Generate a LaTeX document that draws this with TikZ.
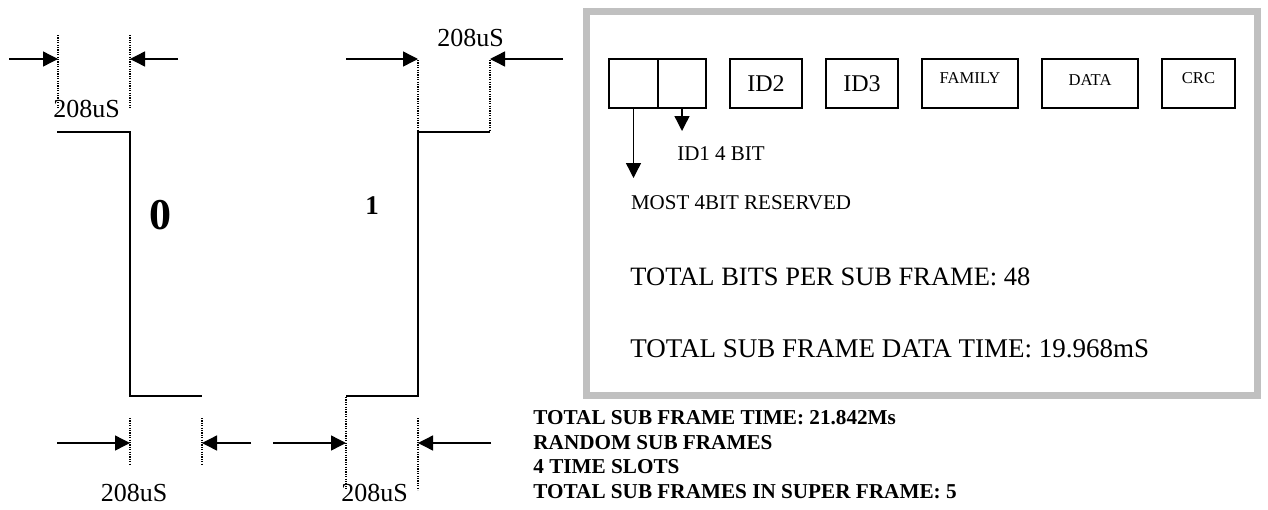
\documentclass[tikz,border=0pt]{standalone}
\usepackage{fontspec}
\setmainfont{Liberation Serif}
\usepackage{tikz}
\usetikzlibrary{arrows.meta, positioning}
\definecolor{framegray}{RGB}{192,192,192}

\begin{document}
\begin{tikzpicture}[
  x=0.5pt, y=-0.5pt,
  font=\fontsize{13}{15}\selectfont,
  wave/.style={draw=black, line width=0.7pt},
  guide/.style={draw=black, line width=0.6pt, dash pattern=on 0.6pt off 0.6pt},
  ar/.style={-{Triangle[length=7.5pt, width=7.5pt]}, draw=black, line width=0.7pt},
  fieldbox/.style={draw=black, rectangle, line width=0.7pt, inner sep=0pt, outer sep=0pt, minimum height=24.5pt},
  smallbox/.style={fieldbox, font=\fontsize{8.3}{10}\selectfont, text depth=5pt},
  summary/.style={inner sep=0pt, anchor=base west, font=\bfseries\fontsize{10.6}{12}\selectfont},
  lbl/.style={inner sep=0pt}]
\useasboundingbox (0,0) rectangle (1268,509);

% --- bit "0": high first, then low
\draw[wave] (57,132) -- (130,132) -- (130,396) -- (202,396);
\node[lbl, font=\bfseries\fontsize{22}{24}\selectfont] (zero) at (160,215) {0};

% --- bit "1": low first, then high
\draw[wave] (346,396) -- (418,396) -- (418,132) -- (490,132);
\node[lbl, font=\bfseries\fontsize{13.5}{15}\selectfont] (one) at (372,206) {1};

% --- 208uS marks above the "0"
\draw[guide] (58,35) -- (58,108) (130,35) -- (130,108);
\coordinate (tlin) at (9,59);   \coordinate (tlhit) at (58,59);
\coordinate (tlout) at (178,59); \coordinate (tlback) at (130,59);
\draw[ar] (tlin) -- (tlhit);
\draw[ar] (tlout) -- (tlback);
\node[lbl] (tltime) at (86.5,109) {208uS};

% --- 208uS marks above the "1"
\draw[guide] (418,60) -- (418,131) (490,60) -- (490,131);
\coordinate (trin) at (346,59);  \coordinate (trhit) at (418,59);
\coordinate (trout) at (563,59); \coordinate (trback) at (490,59);
\draw[ar] (trin) -- (trhit);
\draw[ar] (trout) -- (trback);
\node[lbl] (trtime) at (470.5,38) {208uS};

% --- 208uS marks below the "0"
\draw[guide] (130,418) -- (130,465) (202,418) -- (202,465);
\coordinate (blin) at (57,443);   \coordinate (blhit) at (130,443);
\coordinate (blout) at (251,443); \coordinate (blback) at (202,443);
\draw[ar] (blin) -- (blhit);
\draw[ar] (blout) -- (blback);
\node[lbl] (bltime) at (134,493) {208uS};

% --- 208uS marks below the "1"
\draw[guide] (346,397) -- (346,490) (418,418) -- (418,490);
\coordinate (brin) at (273,443);  \coordinate (brhit) at (346,443);
\coordinate (brout) at (491,443); \coordinate (brback) at (418,443);
\draw[ar] (brin) -- (brhit);
\draw[ar] (brout) -- (brback);
\node[lbl] (brtime) at (374.5,493) {208uS};

% --- sub frame: grey frame and its fields
\draw[draw=framegray, line width=3.5pt] (586.5,11.5) rectangle (1257.5,395);
\node[fieldbox, minimum width=24.5pt] (most) at (633.5,83.5) {};
\node[fieldbox, minimum width=24pt, right=0pt of most] (id1) {};
\node[fieldbox, minimum width=36pt, right=12pt of id1, font=\fontsize{12}{14}\selectfont] (id2) {ID2};
\node[fieldbox, minimum width=36pt, right=12pt of id2, font=\fontsize{12}{14}\selectfont] (id3) {ID3};
\node[smallbox, minimum width=48pt, right=12pt of id3] (family) {FAMILY};
\node[smallbox, minimum width=48pt, right=12pt of family, text depth=3.5pt] (data) {DATA};
\node[smallbox, minimum width=36.5pt, right=12pt of data] (crc) {CRC};

\coordinate (mostend) at ([yshift=-35pt]most.south);
\coordinate (id1end) at ([yshift=-11.5pt]id1.south);
\draw[ar] (most.south) -- (mostend);
\draw[ar] (id1.south) -- (id1end);
\node[lbl, font=\fontsize{10.5}{12}\selectfont] (id1lbl) at (721,154) {ID1 4 BIT};
\node[lbl, font=\fontsize{10.5}{12}\selectfont] (mostlbl) at (741,203) {MOST 4BIT RESERVED};

\node[lbl, anchor=west, font=\fontsize{13.25}{15}\selectfont] (bits) at (630,277) {TOTAL BITS PER SUB FRAME: 48};
\node[lbl, anchor=west, font=\fontsize{13.5}{15}\selectfont] (datatime) at (630,349) {TOTAL SUB FRAME DATA TIME: 19.968mS};

% --- summary below the frame
\node[summary] (frametime) at (533,424.5) {TOTAL SUB FRAME TIME: 21.842Ms};
\node[summary] (random) at (533,449) {RANDOM SUB FRAMES};
\node[summary] (slots) at (533,473.5) {4 TIME SLOTS};
\node[summary] (superframe) at (533,498) {TOTAL SUB FRAMES IN SUPER FRAME: 5};
\end{tikzpicture}
\end{document}
